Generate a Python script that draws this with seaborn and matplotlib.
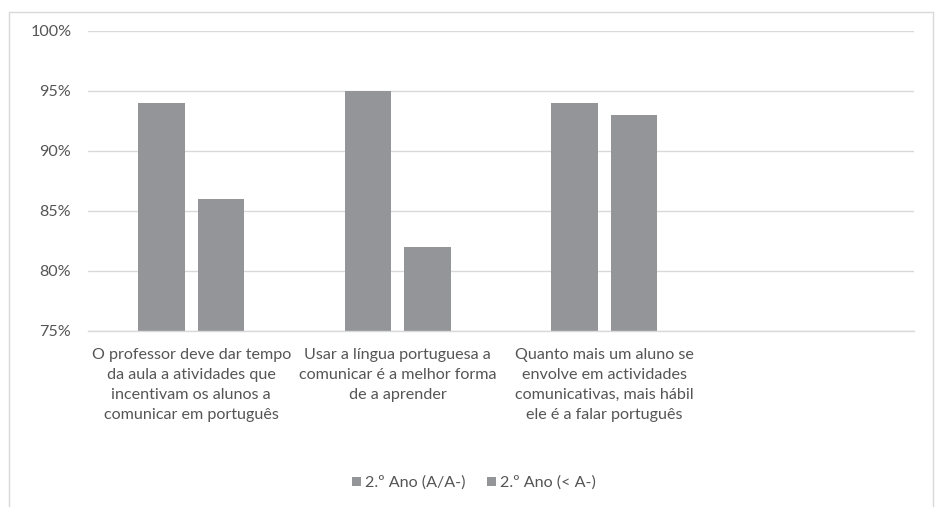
import matplotlib
matplotlib.use("Agg")
import matplotlib.pyplot as plt
from matplotlib.lines import Line2D
from matplotlib.patches import Patch
from matplotlib.ticker import PercentFormatter
import pandas as pd
import seaborn as sns

categories = [
    "O professor deve dar tempo\nda aula a atividades que\nincentivam os alunos a\ncomunicar em português",
    "Usar a língua portuguesa a\ncomunicar é a melhor forma\nde a aprender",
    "Quanto mais um aluno se\nenvolve em actividades\ncomunicativas, mais hábil\nele é a falar português",
    "",
]
series_names = ["2.º Ano (A/A-)", "2.º Ano (< A-)"]
values_a = [94, 95, 94]
values_b = [86, 82, 93]
y_ticks = [75, 80, 85, 90, 95, 100]

bar_color = "#939598"
text_color = "#555555"
grid_color = "#d9d9d9"
font_size = 11.6

rows = []
for cat, a, b in zip(categories, values_a, values_b):
    rows.append({"categoria": cat, "serie": series_names[0], "valor": a})
    rows.append({"categoria": cat, "serie": series_names[1], "valor": b})
df = pd.DataFrame(rows)

sns.set_theme(style="white")
plt.rcParams["font.family"] = ["Lato", "DejaVu Sans"]

W, H = 935, 507
fig = plt.figure(figsize=(W / 100, H / 100), dpi=100)
ax = fig.add_axes([88 / W, 1 - 331 / H, (914 - 88) / W, (331 - 31) / H])

sns.barplot(
    data=df, x="categoria", y="valor", hue="serie", order=categories,
    hue_order=series_names, palette=[bar_color, bar_color],
    width=0.576, gap=0.218, ax=ax, legend=False, saturation=1,
    edgecolor="none", errorbar=None,
)

ax.set_ylim(75, 100)
ax.set_yticks(y_ticks)
ax.yaxis.set_major_formatter(PercentFormatter(decimals=0))
ax.set_xlim(-0.5, len(categories) - 0.5)
ax.grid(axis="y", color=grid_color, linewidth=1.0)
ax.set_axisbelow(True)
for side in ["left", "right", "top"]:
    ax.spines[side].set_visible(False)
ax.spines["bottom"].set_color(grid_color)
ax.spines["bottom"].set_linewidth(1.0)
ax.set_xlabel("")
ax.set_ylabel("")
ax.tick_params(axis="y", length=0, pad=12, labelsize=font_size, labelcolor=text_color)
ax.tick_params(axis="x", length=0, pad=12, labelsize=font_size, labelcolor=text_color)
for lbl in ax.get_xticklabels():
    lbl.set_linespacing(1.55)
    lbl.set_verticalalignment("top")

handles = [Patch(facecolor=bar_color, edgecolor="none") for _ in series_names]
fig.legend(
    handles, series_names, loc="center", bbox_to_anchor=(474 / W, 1 - 483 / H),
    ncol=2, frameon=False, fontsize=font_size, labelcolor=text_color,
    handlelength=0.55, handleheight=0.55, handletextpad=0.25, columnspacing=1.3,
)

# outer chart border
bx0, by0, bx1 = 9 / W, 1 - 12 / H, 933 / W
fig.add_artist(Line2D([bx0, bx1], [by0, by0], transform=fig.transFigure, color=grid_color, lw=1))
fig.add_artist(Line2D([bx0, bx0], [0, by0], transform=fig.transFigure, color=grid_color, lw=1))
fig.add_artist(Line2D([bx1, bx1], [0, by0], transform=fig.transFigure, color=grid_color, lw=1))

fig.savefig("out.png", dpi=100, facecolor="white")
